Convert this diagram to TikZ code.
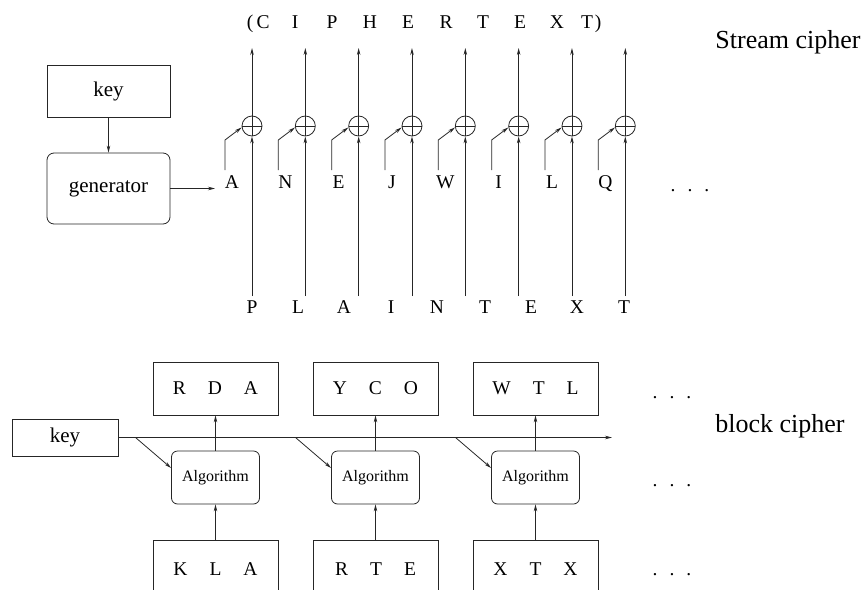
\documentclass[tikz,border=0pt]{standalone}
\usepackage{fontspec}
\setmainfont{Liberation Serif}
\usetikzlibrary{arrows.meta}
\begin{document}
\begin{tikzpicture}[x=1pt,y=-1pt, line width=0.8pt, draw=black!85,
  >={Stealth[length=7pt,width=3.5pt]},
  box/.style={draw, minimum width=125pt, minimum height=53pt, inner sep=0pt, font=\fontsize{19.5}{19.5}\selectfont},
  letter/.style={font=\fontsize{19.5}{19.5}\selectfont, anchor=base, inner sep=0pt},
  big/.style={font=\fontsize{26}{26}\selectfont, anchor=base west, inner sep=0pt},
  keyfont/.style={font=\fontsize{21}{21}\selectfont},
  xorc/.style={circle, draw, minimum size=20pt, inner sep=0pt,
    path picture={\draw (path picture bounding box.north) -- (path picture bounding box.south)
                        (path picture bounding box.west) -- (path picture bounding box.east);}},
  alg/.style={draw, rounded corners=6pt, minimum width=88pt, minimum height=53pt, inner sep=0pt,
    font=\fontsize{16}{16}\selectfont},
]
\useasboundingbox (0,0) rectangle (864,589);
\clip (0,0) rectangle (864,589);

% ---------- stream cipher ----------
\node[draw, keyfont, minimum width=123pt, minimum height=52pt, inner sep=0pt] (key) at (108.5,91) {key};
\node[draw, keyfont, rounded corners=7pt, minimum width=123pt, minimum height=71pt, inner sep=0pt] (gen) at (108.5,188.5) {generator};
\draw[->] (key) -- (gen);
\coordinate (gA) at (215,188.5);
\draw[->] (gen.east) -- (gA);

\foreach \i/\k in {0/A,1/N,2/E,3/J,4/W,5/I,6/L,7/Q} {
  \pgfmathsetmacro\cx{252+53.33*\i}
  \node[xorc] (x\i) at (\cx,126) {};
  \node[letter] (k\i) at (\cx-20,188) {\k};
  \coordinate (ks\i) at (\cx-27,170);
  \coordinate (kb\i) at (\cx-27,140);
  \coordinate (pb\i) at (\cx,296);
  \coordinate (ct\i) at (\cx,48);
  \draw[->] (ks\i) -- (kb\i) -- (x\i.188);
  \draw[->] (pb\i) -- (x\i);
  \draw[->] (x\i) -- (ct\i);
}

\foreach \x/\t [count=\n] in {250/{(},263/C,295/I,332/P,370/H,408/E,446/R,483/T,520/E,557/X,587/T,598/{)}}
  \node[letter] (c\n) at (\x,28) {\t};

\foreach \x/\t [count=\n] in {252/P,298/L,344/A,391/I,437/N,485/T,531/E,577/X,624/T}
  \node[letter] (p\n) at (\x,313) {\t};

\node[letter] (dots1) at (690,191) {.\hspace{12pt}.\hspace{12pt}.};
\node[big] (sc) at (715,48) {Stream cipher};

% ---------- block cipher ----------
\node[draw, keyfont, minimum width=106pt, minimum height=37pt, inner sep=0pt] (key2) at (65,437.5) {key};
\coordinate (kend) at (612,437.5);
\draw[->] (key2.east) -- (kend);

\foreach \i/\cx/\ta/\tb in {1/215.5/{R\hspace{22pt}D\hspace{22pt}A}/{K\hspace{22pt}L\hspace{22pt}A},
                            2/375.5/{Y\hspace{22pt}C\hspace{22pt}O}/{R\hspace{22pt}T\hspace{22pt}E},
                            3/535.5/{W\hspace{22pt}T\hspace{22pt}L}/{X\hspace{22pt}T\hspace{22pt}X}} {
  \node[box] (top\i) at (\cx,388.5) {\ta};
  \node[alg] (alg\i) at (\cx,477.5) {Algorithm};
  \node[box, minimum height=58pt] (bot\i) at (\cx,569) {\tb};
  \coordinate (d\i) at (\cx-80,437.5);
  \draw[->] (alg\i) -- (top\i);
  \draw[->] (bot\i) -- (alg\i);
  \draw[->] (d\i) -- ([yshift=9.5pt]alg\i.west);
}

\node[letter] (dots2) at (672,398) {.\hspace{12pt}.\hspace{12pt}.};
\node[letter] (dots3) at (672,486) {.\hspace{12pt}.\hspace{12pt}.};
\node[letter] (dots4) at (672,575) {.\hspace{12pt}.\hspace{12pt}.};
\node[big] (bc) at (715,432) {block cipher};
\end{tikzpicture}
\end{document}
